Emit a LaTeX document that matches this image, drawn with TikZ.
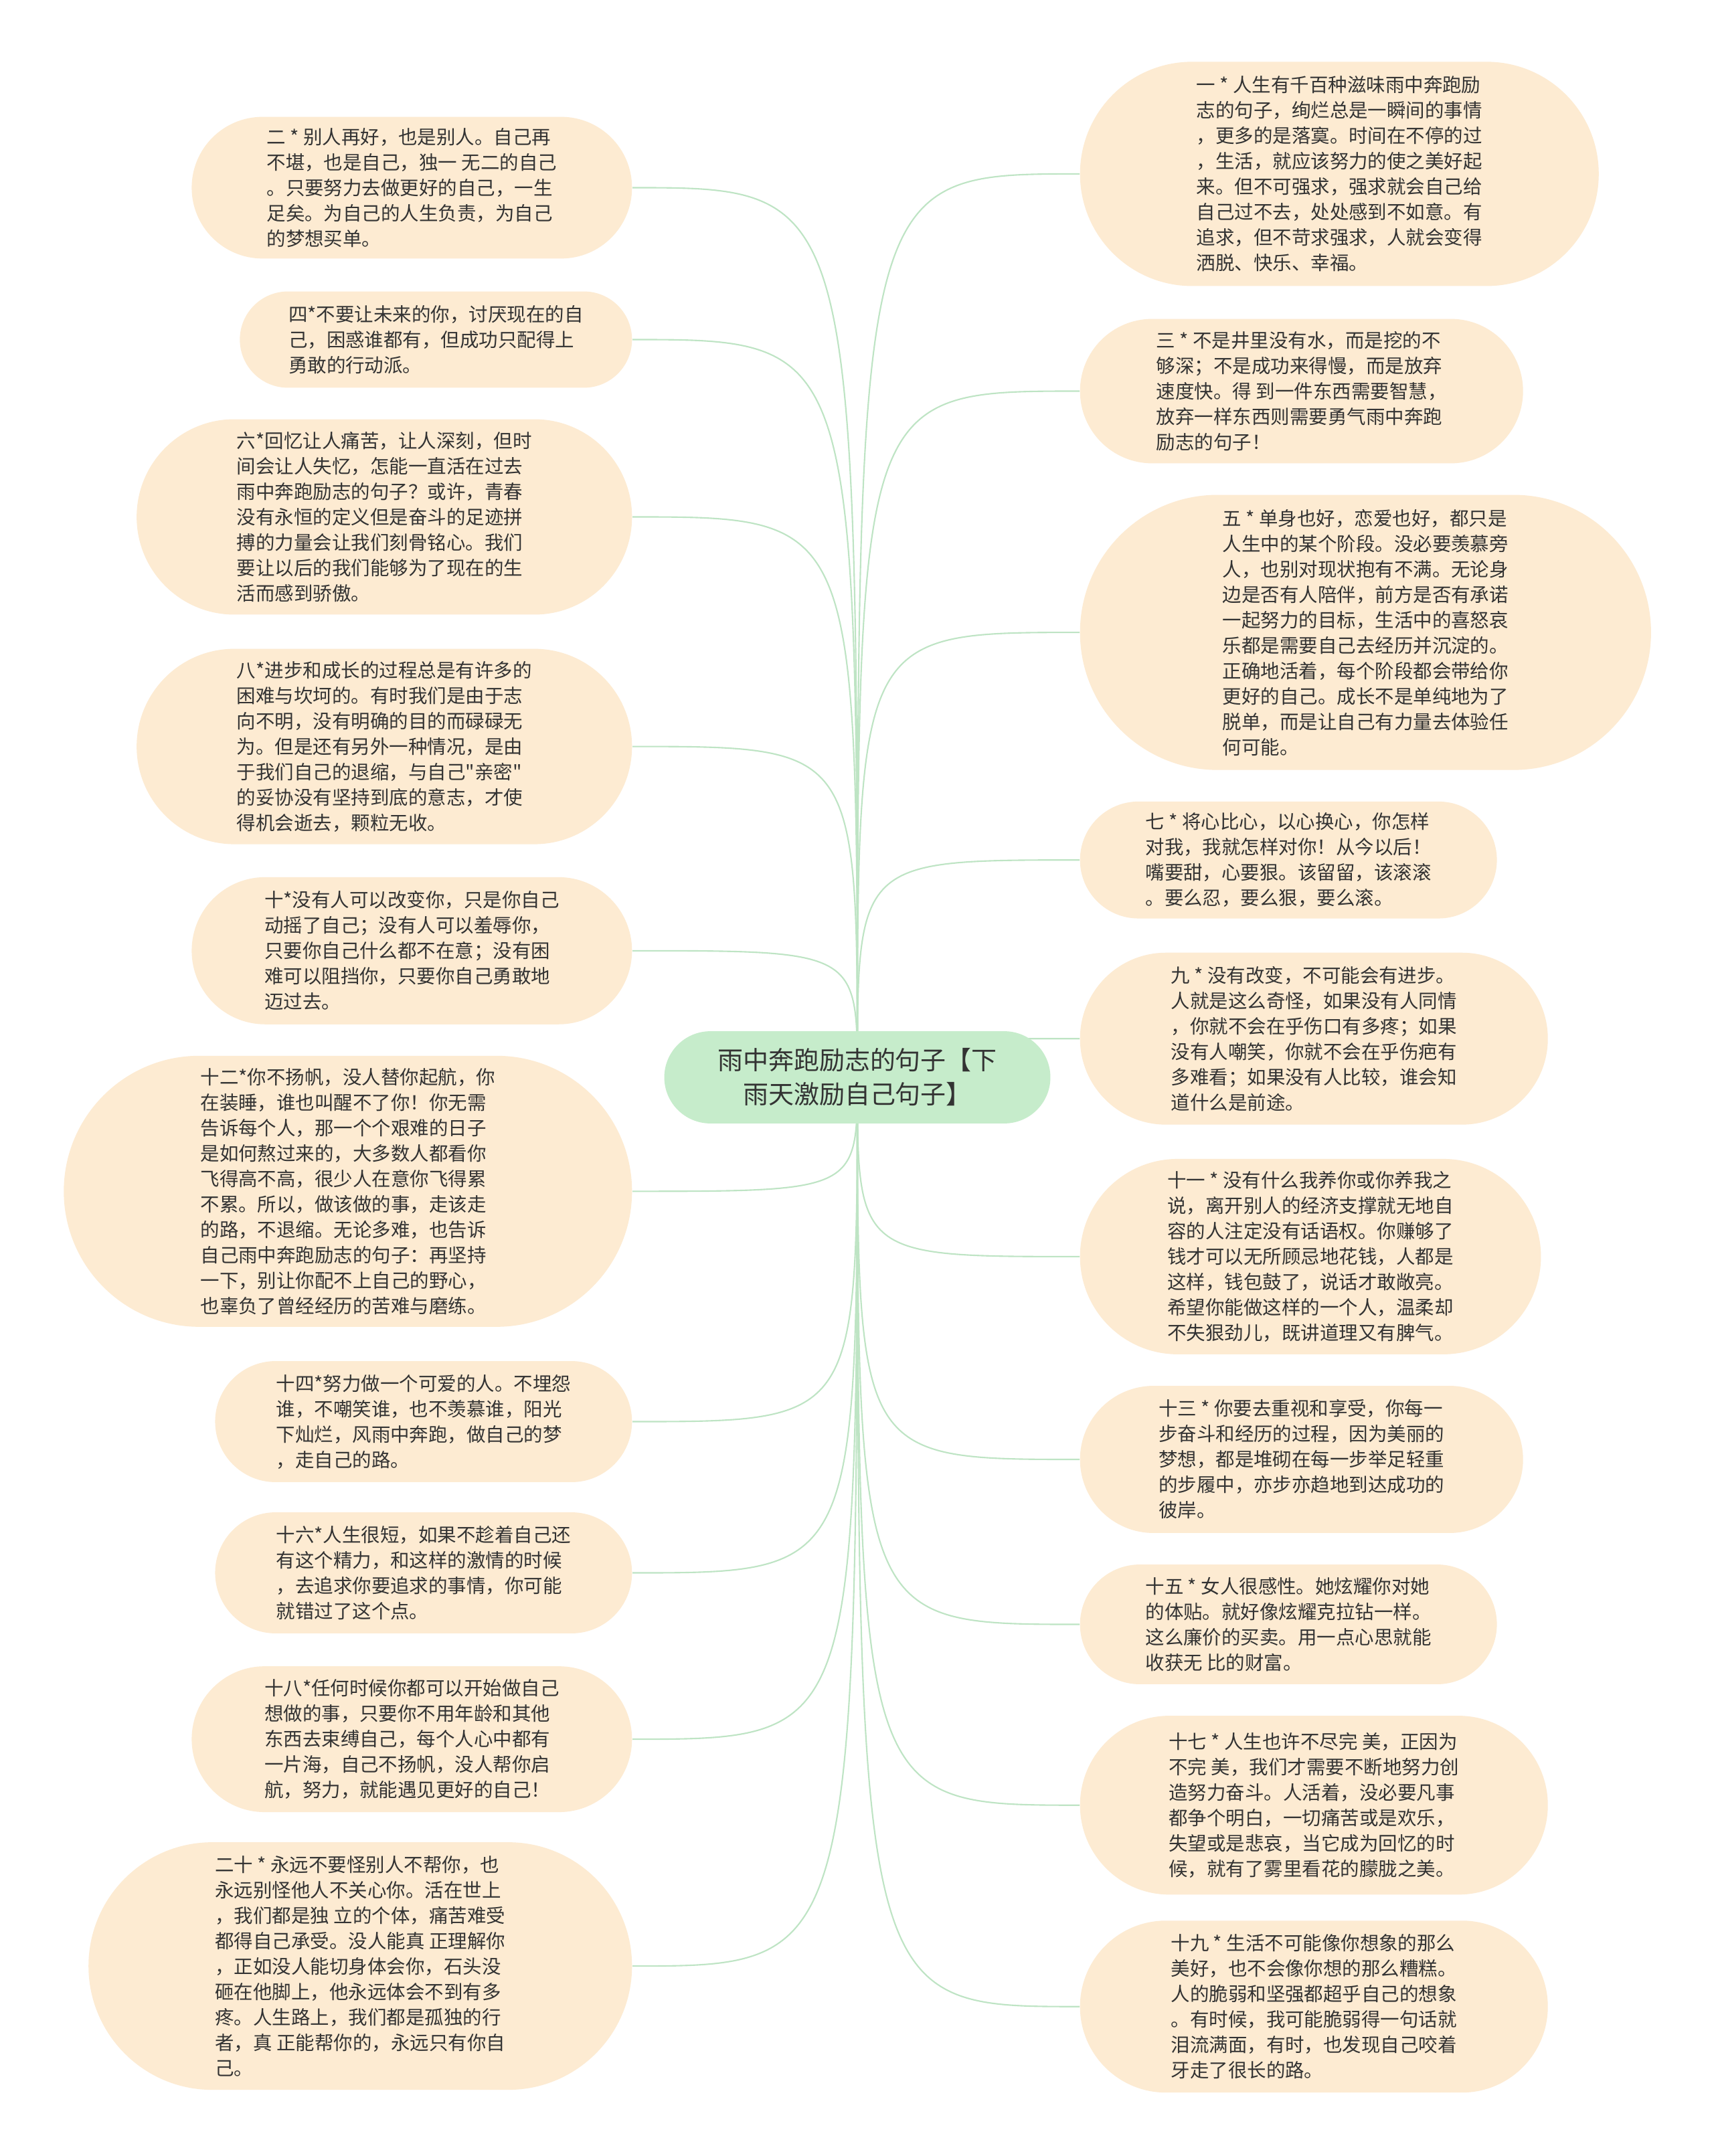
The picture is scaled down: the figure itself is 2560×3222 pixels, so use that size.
\documentclass[tikz,border=0pt]{standalone}
\usepackage{fontspec}
\usepackage{xcolor}
\usepackage{tikz}
\usetikzlibrary{shapes.misc,backgrounds}
\newfontfamily\cjk{Noto Sans CJK SC}
\definecolor{leafbg}{HTML}{FDEBD2}
\definecolor{rootbg}{HTML}{C6ECCB}
\definecolor{linkc}{HTML}{BEE4C4}
\definecolor{txt}{HTML}{333333}
\newcommand{\leaffont}{\cjk\fontsize{8.1pt}{10.8pt}\selectfont}
\newcommand{\rootfont}{\cjk\fontsize{10.8pt}{14.5pt}\selectfont}
\begin{document}
\begin{tikzpicture}[x=0.01cm,y=-0.01cm,
leaf/.style={rounded rectangle,fill=leafbg,text=txt,font=\leaffont,align=left,inner sep=0pt},
lf/.style={leaf,anchor=east},
rt/.style={leaf,anchor=west},
link/.style={draw=linkc,line width=0.6pt}]
\useasboundingbox (0,0) rectangle (2560,3222);
\node[rounded rectangle,fill=rootbg,text=txt,font=\rootfont,align=center,minimum width=6.0cm,minimum height=1.377cm](root) at (1281,1610){雨中奔跑励志的句子【下\\雨天激励自己句子】};
\node[lf,minimum width=6.575cm,minimum height=2.116cm](l2) at (945,280.5){二 * 别人再好，也是别人。自己再\\不堪，也是自己，独一 无二的自己\\。只要努力去做更好的自己，一生\\足矣。为自己的人生负责，为自己\\的梦想买单。};
\node[lf,minimum width=5.856cm,minimum height=1.438cm](l4) at (945,507.5){四*不要让未来的你，讨厌现在的自\\己，困惑谁都有，但成功只配得上\\勇敢的行动派。};
\node[lf,minimum width=7.397cm,minimum height=2.918cm](l6) at (945,772.5){六*回忆让人痛苦，让人深刻，但时\\间会让人失忆，怎能一直活在过去\\雨中奔跑励志的句子？或许，青春\\没有永恒的定义但是奋斗的足迹拼\\搏的力量会让我们刻骨铭心。我们\\要让以后的我们能够为了现在的生\\活而感到骄傲。};
\node[lf,minimum width=7.397cm,minimum height=2.918cm](l8) at (945,1115.6){八*进步和成长的过程总是有许多的\\困难与坎坷的。有时我们是由于志\\向不明，没有明确的目的而碌碌无\\为。但是还有另外一种情况，是由\\于我们自己的退缩，与自己"亲密"\\的妥协没有坚持到底的意志，才使\\得机会逝去，颗粒无收。};
\node[lf,minimum width=6.575cm,minimum height=2.198cm](l10) at (945,1420.8){十*没有人可以改变你，只是你自己\\动摇了自己；没有人可以羞辱你，\\只要你自己什么都不在意；没有困\\难可以阻挡你，只要你自己勇敢地\\迈过去。};
\node[lf,minimum width=8.485cm,minimum height=4.048cm](l12) at (945,1780.3){十二*你不扬帆，没人替你起航，你\\在装睡，谁也叫醒不了你！你无需\\告诉每个人，那一个个艰难的日子\\是如何熬过来的，大多数人都看你\\飞得高不高，很少人在意你飞得累\\不累。所以，做该做的事，走该走\\的路，不退缩。无论多难，也告诉\\自己雨中奔跑励志的句子：再坚持\\一下，别让你配不上自己的野心，\\也辜负了曾经经历的苦难与磨练。};
\node[lf,minimum width=6.225cm,minimum height=1.808cm](l14) at (945,2124.5){十四*努力做一个可爱的人。不埋怨\\谁，不嘲笑谁，也不羡慕谁，阳光\\下灿烂，风雨中奔跑，做自己的梦\\，走自己的路。};
\node[lf,minimum width=6.225cm,minimum height=1.808cm](l16) at (945,2350.5){十六*人生很短，如果不趁着自己还\\有这个精力，和这样的激情的时候\\，去追求你要追求的事情，你可能\\就错过了这个点。};
\node[lf,minimum width=6.575cm,minimum height=2.178cm](l18) at (945,2599.1){十八*任何时候你都可以开始做自己\\想做的事，只要你不用年龄和其他\\东西去束缚自己，每个人心中都有\\一片海，自己不扬帆，没人帮你启\\航，努力，就能遇见更好的自己！};
\node[lf,minimum width=8.116cm,minimum height=3.698cm](l20) at (945,2938.1){二十 * 永远不要怪别人不帮你，也\\永远别怪他人不关心你。活在世上\\，我们都是独 立的个体，痛苦难受\\都得自己承受。没人能真 正理解你\\，正如没人能切身体会你，石头没\\砸在他脚上，他永远体会不到有多\\疼。人生路上，我们都是孤独的行\\者，真 正能帮你的，永远只有你自\\己。};
\node[rt,minimum width=7.746cm,minimum height=3.349cm](r1) at (1613,259.9){一 * 人生有千百种滋味雨中奔跑励\\志的句子，绚烂总是一瞬间的事情\\，更多的是落寞。时间在不停的过\\，生活，就应该努力的使之美好起\\来。但不可强求，强求就会自己给\\自己过不去，处处感到不如意。有\\追求，但不苛求强求，人就会变得\\洒脱、快乐、幸福。};
\node[rt,minimum width=6.616cm,minimum height=2.157cm](r3) at (1613,584.5){三 * 不是井里没有水，而是挖的不\\够深；不是成功来得慢，而是放弃\\速度快。得 到一件东西需要智慧，\\放弃一样东西则需要勇气雨中奔跑\\励志的句子！};
\node[rt,minimum width=8.527cm,minimum height=4.109cm](r5) at (1613,945.1){五 * 单身也好，恋爱也好，都只是\\人生中的某个阶段。没必要羡慕旁\\人，也别对现状抱有不满。无论身\\边是否有人陪伴，前方是否有承诺\\一起努力的目标，生活中的喜怒哀\\乐都是需要自己去经历并沉淀的。\\正确地活着，每个阶段都会带给你\\更好的自己。成长不是单纯地为了\\脱单，而是让自己有力量去体验任\\何可能。};
\node[rt,minimum width=6.225cm,minimum height=1.746cm](r7) at (1613,1285.2){七 * 将心比心，以心换心，你怎样\\对我，我就怎样对你！从今以后！\\嘴要甜，心要狠。该留留，该滚滚\\。要么忍，要么狠，要么滚。};
\node[rt,minimum width=6.986cm,minimum height=2.568cm](r9) at (1613,1552.2){九 * 没有改变，不可能会有进步。\\人就是这么奇怪，如果没有人同情\\，你就不会在乎伤口有多疼；如果\\没有人嘲笑，你就不会在乎伤疤有\\多难看；如果没有人比较，谁会知\\道什么是前途。};
\node[rt,minimum width=6.883cm,minimum height=2.918cm](r11) at (1613,1877.9){十一 * 没有什么我养你或你养我之\\说，离开别人的经济支撑就无地自\\容的人注定没有话语权。你赚够了\\钱才可以无所顾忌地花钱，人都是\\这样，钱包鼓了，说话才敢敞亮。\\希望你能做这样的一个人，温柔却\\不失狠劲儿，既讲道理又有脾气。};
\node[rt,minimum width=6.616cm,minimum height=2.198cm](r13) at (1613,2181){十三 * 你要去重视和享受，你每一\\步奋斗和经历的过程，因为美丽的\\梦想，都是堆砌在每一步举足轻重\\的步履中，亦步亦趋地到达成功的\\彼岸。};
\node[rt,minimum width=6.225cm,minimum height=1.788cm](r15) at (1613,2427.5){十五 * 女人很感性。她炫耀你对她\\的体贴。就好像炫耀克拉钻一样。\\这么廉价的买卖。用一点心思就能\\收获无 比的财富。};
\node[rt,minimum width=6.986cm,minimum height=2.671cm](r17) at (1613,2697.7){十七 * 人生也许不尽完 美，正因为\\不完 美，我们才需要不断地努力创\\造努力奋斗。人活着，没必要凡事\\都争个明白，一切痛苦或是欢乐，\\失望或是悲哀，当它成为回忆的时\\候，就有了雾里看花的朦胧之美。};
\node[rt,minimum width=6.986cm,minimum height=2.568cm](r19) at (1613,2998.7){十九 * 生活不可能像你想象的那么\\美好，也不会像你想的那么糟糕。\\人的脆弱和坚强都超乎自己的想象\\。有时候，我可能脆弱得一句话就\\泪流满面，有时，也发现自己咬着\\牙走了很长的路。};
\begin{scope}[on background layer]
\fill[white](0,0) rectangle (2560,3222);
\foreach \n in {l2,l4,l6,l8,l10,l12,l14,l16,l18,l20}
  \draw[link](root.center) .. controls (root.center |- \n.east) .. (\n.east);
\foreach \n in {r1,r3,r5,r7,r9,r11,r13,r15,r17,r19}
  \draw[link](root.center) .. controls (root.center |- \n.west) .. (\n.west);
\end{scope}
\end{tikzpicture}
\end{document}
